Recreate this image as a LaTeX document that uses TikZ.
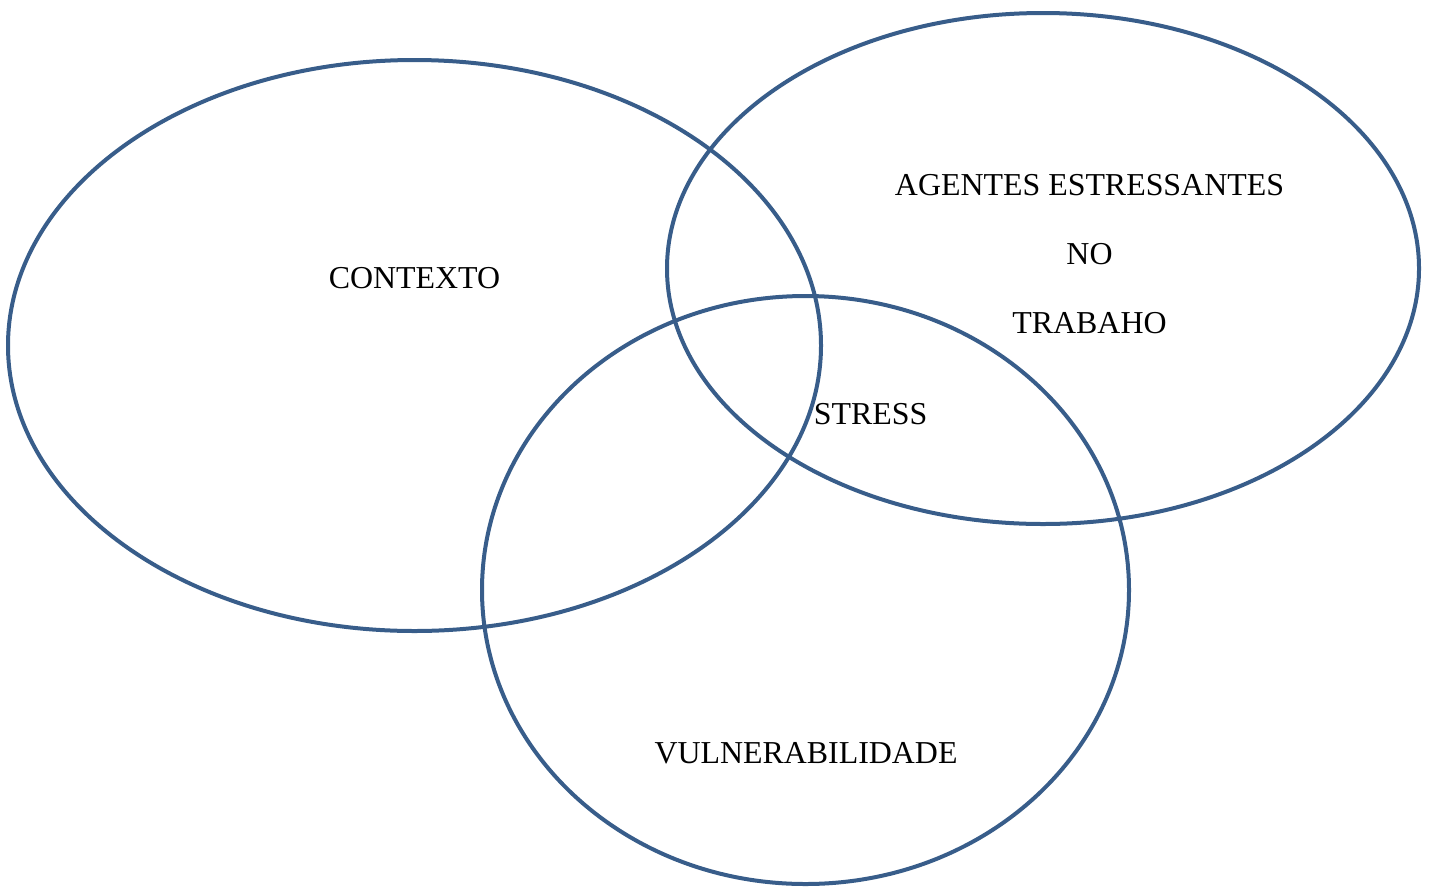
\documentclass[tikz,border=0pt]{standalone}
\usepackage{fontspec}
\setmainfont{Liberation Serif}
\definecolor{ringblue}{RGB}{56,93,138}
\begin{document}
\begin{tikzpicture}[x=1pt,y=-1pt,
  ring/.style={draw=ringblue,line width=4pt},
  lbl/.style={font=\fontsize{31.9}{36}\selectfont,inner sep=0pt,anchor=center}]
\useasboundingbox (0,0) rectangle (1429,887);
\draw[ring] (414.5,345.5) ellipse [x radius=406.5,y radius=285.5];
\draw[ring] (1043,268.5) ellipse [x radius=376,y radius=255.5];
\draw[ring] (805.5,590) ellipse [x radius=323.5,y radius=294];
\node[lbl] (ctx) at (414.5,278) {CONTEXTO};
\node[lbl] (ag1) at (1089.5,185) {AGENTES ESTRESSANTES};
\node[lbl] (ag2) at (1089.5,254) {NO};
\node[lbl] (ag3) at (1089.5,323) {TRABAHO};
\node[lbl] (st) at (870.5,414) {STRESS};
\node[lbl] (vul) at (806,753) {VULNERABILIDADE};
\end{tikzpicture}
\end{document}
